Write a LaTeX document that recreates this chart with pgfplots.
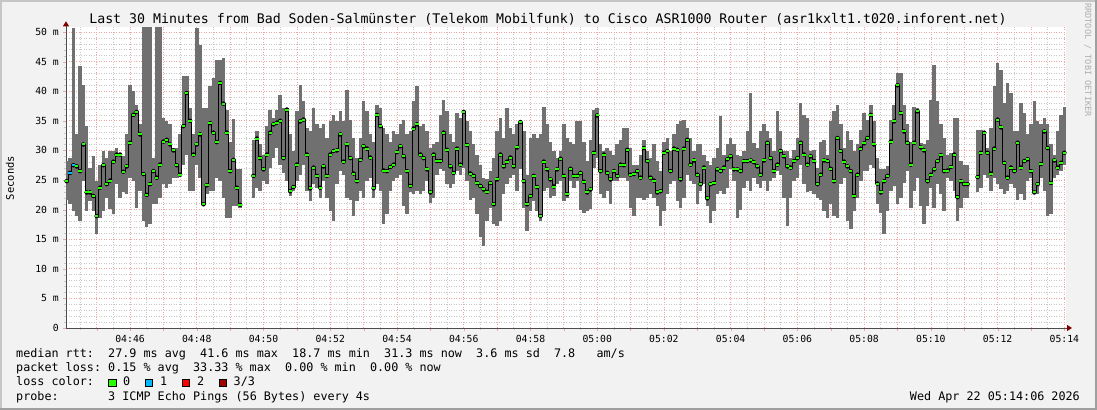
\documentclass[border=0pt]{standalone}
\usepackage{fontspec}
\setmonofont{DejaVu Sans Mono}
\usepackage{pgfplots}
\pgfplotsset{compat=1.18}
\usepackage{pgfplotstable}
\usetikzlibrary{arrows.meta}

\definecolor{bg}{RGB}{242,242,242}
\definecolor{smoke}{RGB}{112,112,112}
\definecolor{loss0}{RGB}{38,255,0}
\definecolor{loss1}{RGB}{0,184,255}
\definecolor{loss2}{RGB}{255,0,0}
\definecolor{loss3}{RGB}{160,0,0}
\definecolor{mgrid}{RGB}{240,165,165}
\definecolor{mingrid}{RGB}{200,200,200}
\definecolor{arrowred}{RGB}{128,0,0}
\definecolor{credit}{RGB}{175,175,175}

% ping rtt per step: min / max of the smoke, median (ms), x = minute of the hour
\pgfplotstableread{
x lo hi med
44.1 21.7 28.2 24.8
44.2 20.9 28.7 26.2
44.3 19.8 50.6 27.5
44.4 18.9 32.7 27.3
44.5 18.1 44.2 26.5
44.6 24.8 41.1 31.0
44.7 19.8 34.1 22.9
44.8 21.5 27.1 22.9
44.9 19.8 29.0 22.3
45.0 15.8 24.8 18.9
45.1 18.6 27.6 23.7
45.2 19.8 29.9 27.5
45.3 22.0 28.7 24.3
45.4 20.1 29.9 24.9
45.5 19.2 29.9 28.1
45.6 24.3 30.4 29.3
45.7 22.0 29.6 29.3
45.8 22.9 29.0 26.4
45.9 22.6 32.7 27.3
46.0 25.4 41.1 31.3
46.1 24.8 40.0 36.0
46.2 20.3 37.7 36.5
46.3 23.1 34.4 32.7
46.4 18.1 50.8 26.0
46.5 17.0 50.8 22.5
46.6 17.5 50.8 24.3
46.7 20.9 28.7 26.5
46.8 20.9 50.8 25.4
46.9 22.0 50.8 27.6
47.0 24.3 35.5 31.5
47.1 23.7 34.9 31.8
47.2 24.3 34.4 31.0
47.3 25.4 30.4 30.0
47.4 25.4 30.4 27.5
47.5 25.6 32.7 25.9
47.6 27.6 42.5 34.1
47.7 29.3 42.5 39.7
47.8 23.1 37.2 35.0
47.9 23.1 32.7 29.3
48.0 27.6 50.6 31.0
48.1 25.4 47.8 32.7
48.2 20.6 37.2 20.9
48.3 22.6 37.2 24.1
48.4 23.1 40.8 34.6
48.5 23.1 42.2 33.0
48.6 25.4 45.3 31.4
48.7 24.8 45.3 41.4
48.8 22.0 45.6 37.9
48.9 18.6 36.9 33.0
49.0 18.6 31.5 26.5
49.1 20.6 35.3 28.4
49.2 20.6 26.8 23.7
49.3 20.2 26.8 20.8
}\segA

\pgfplotstableread{
x lo hi med
49.7 22.0 31.8 25.7
49.8 23.7 33.2 32.0
49.9 23.1 31.0 28.7
50.0 24.8 29.3 26.8
50.1 24.3 34.1 29.3
50.2 27.1 36.9 33.0
50.3 28.8 35.5 34.4
50.4 30.4 36.9 34.7
50.5 27.6 39.3 35.0
50.6 26.2 37.2 28.7
50.7 24.8 37.2 36.9
50.8 22.3 32.7 23.1
50.9 23.1 29.9 23.8
51.0 24.8 36.6 27.6
51.1 25.9 41.1 34.9
51.2 27.6 38.3 35.2
51.3 23.1 33.8 29.3
51.4 21.5 33.2 23.6
51.5 24.3 37.2 27.1
51.6 23.7 34.4 25.7
51.7 22.0 33.8 23.7
51.8 24.8 34.4 27.3
51.9 22.0 32.1 25.7
52.0 19.8 34.9 29.3
52.1 18.1 36.0 29.9
52.2 24.3 34.9 30.0
52.3 26.5 36.6 32.7
52.4 25.9 34.9 28.1
52.5 22.0 40.2 31.0
52.6 21.7 35.2 28.7
52.7 18.9 32.1 26.1
52.8 21.5 28.7 24.8
52.9 23.1 32.1 28.4
53.0 22.0 38.3 30.7
53.1 24.8 36.6 30.3
53.2 25.4 32.7 28.8
53.3 22.0 31.5 23.6
53.4 24.3 37.7 36.0
53.5 23.1 37.2 34.1
53.6 17.5 33.8 26.6
53.7 19.2 32.7 26.5
53.8 23.1 31.5 27.2
53.9 24.8 33.2 27.6
54.0 25.4 32.7 29.7
54.1 25.9 34.4 30.7
54.2 20.6 35.2 29.0
54.3 19.2 32.7 26.5
54.4 22.9 33.2 24.0
54.5 22.6 38.3 33.7
54.6 23.1 40.8 34.4
54.7 22.6 34.1 29.3
54.8 23.1 34.4 28.7
54.9 24.8 33.2 26.8
55.0 21.2 30.4 22.9
55.1 22.0 31.0 29.3
55.2 25.9 31.5 28.2
55.3 26.8 36.0 28.2
55.4 26.5 38.6 33.0
55.5 24.3 36.6 30.1
55.6 23.7 32.7 27.3
55.7 24.3 31.5 26.2
55.8 26.5 36.3 30.3
55.9 25.9 35.5 27.6
56.0 27.1 36.9 36.5
56.1 24.8 34.9 30.9
56.2 21.7 33.2 26.1
56.3 22.0 31.0 25.7
56.4 19.2 29.3 24.5
56.5 15.3 27.6 24.0
56.6 13.9 25.4 23.4
56.7 18.1 25.1 23.0
56.8 20.3 26.5 24.5
56.9 17.5 28.7 20.9
57.0 17.2 33.2 25.1
57.1 18.1 35.5 29.3
57.2 22.6 32.1 27.3
57.3 24.3 37.2 28.1
57.4 25.4 33.8 28.8
57.5 25.9 32.7 27.3
57.6 23.1 34.4 30.5
57.7 26.8 35.2 34.8
57.8 20.3 33.2 24.8
57.9 16.4 25.9 20.9
58.0 19.8 32.1 22.3
58.1 21.5 32.7 25.7
58.2 19.8 32.1 23.8
58.3 18.1 32.7 18.9
58.4 23.1 37.4 28.1
58.5 23.7 34.4 26.8
58.6 22.0 31.5 25.1
58.7 22.3 29.9 23.9
58.8 24.3 28.7 26.8
58.9 24.8 29.9 28.6
59.0 21.5 34.4 25.7
59.1 22.0 32.1 22.6
59.2 24.8 31.5 26.9
59.3 23.7 31.0 25.7
59.4 24.8 34.9 25.7
59.5 20.0 34.9 26.2
59.6 19.5 31.5 24.7
59.7 19.8 28.2 22.9
59.8 20.1 31.8 23.4
59.9 27.1 36.9 29.6
60.0 28.7 37.2 35.9
60.1 22.6 31.0 26.5
60.2 22.0 29.9 29.3
60.3 23.1 30.4 26.2
60.4 20.9 29.9 25.1
60.5 24.8 29.3 26.5
60.6 24.8 31.0 25.7
60.7 25.4 31.8 27.6
60.8 25.4 33.8 27.5
60.9 24.8 33.8 30.1
61.0 20.3 30.4 25.9
61.1 18.9 27.6 26.0
61.2 22.0 27.6 26.5
61.3 22.0 29.3 25.4
61.4 21.7 31.8 30.4
61.5 22.0 29.9 28.2
61.6 22.6 28.7 25.4
61.7 22.0 31.0 24.9
61.8 20.6 28.2 22.9
61.9 17.2 26.5 23.1
62.0 19.8 31.5 29.6
62.1 22.6 32.1 29.9
62.2 24.3 29.9 26.5
62.3 24.8 32.7 30.3
62.4 21.5 34.4 30.1
62.5 20.3 34.9 25.1
62.6 22.0 35.2 30.3
62.7 25.9 33.8 31.8
62.8 24.8 32.1 27.6
62.9 24.3 29.9 28.3
63.0 20.9 31.0 25.9
63.1 23.1 31.0 24.3
63.2 24.3 29.3 27.1
63.3 20.6 28.2 21.9
63.4 17.8 27.6 24.3
63.5 19.8 28.7 24.5
63.6 22.6 30.4 26.8
63.7 23.1 35.8 26.5
63.8 22.6 29.3 27.1
63.9 23.7 31.0 28.5
64.0 26.8 32.1 29.0
64.1 24.8 31.0 26.8
64.2 18.6 29.3 26.8
64.3 19.9 29.0 26.5
64.4 23.7 29.9 28.2
64.5 24.8 33.2 28.2
64.6 23.1 39.7 28.3
64.7 25.4 31.3 28.0
64.8 24.3 30.4 27.3
64.9 23.7 33.2 25.9
65.0 24.8 34.4 28.3
65.1 23.1 33.2 31.3
65.2 24.8 32.1 28.7
65.3 25.4 29.9 26.5
65.4 26.5 36.6 27.6
65.5 25.9 33.2 29.9
65.6 22.0 29.9 29.0
65.7 17.2 29.9 27.3
65.8 22.0 28.7 27.1
65.9 24.8 30.1 28.2
66.0 25.4 32.1 28.7
66.1 27.6 38.0 31.3
66.2 24.3 36.0 29.3
66.3 22.9 35.5 27.6
66.4 23.1 29.9 29.0
66.5 22.6 30.1 28.2
66.6 22.0 27.1 24.3
66.7 21.7 31.5 25.9
66.8 19.8 31.8 28.3
66.9 18.6 29.3 28.2
67.0 20.9 34.9 26.9
67.1 18.9 36.6 24.8
67.2 18.6 37.7 32.1
67.3 24.3 34.4 29.9
67.4 25.4 30.4 28.1
67.5 18.1 33.2 27.3
67.6 16.7 31.8 26.5
67.7 19.8 29.9 22.3
67.8 22.0 31.0 25.9
67.9 24.8 33.5 30.3
68.0 26.5 36.3 31.2
68.1 26.5 35.2 32.1
68.2 27.6 37.7 36.0
68.3 27.1 34.9 31.0
68.4 20.9 28.7 24.4
68.5 19.5 26.8 22.9
68.6 15.8 26.8 24.8
68.7 19.8 27.3 25.7
68.8 23.1 35.2 31.5
68.9 24.0 37.7 34.9
69.0 20.9 43.0 41.0
69.1 22.0 43.0 36.3
69.2 24.5 37.7 33.2
69.3 26.5 34.4 31.3
69.4 20.3 31.5 27.6
69.5 23.1 37.4 31.3
69.6 25.4 37.2 36.6
69.7 20.6 31.3 30.5
69.8 17.5 31.0 30.0
69.9 20.6 31.8 24.8
70.0 23.7 38.6 25.9
70.1 20.3 44.4 26.8
70.2 24.3 38.3 28.2
70.3 22.6 34.4 29.2
70.4 19.8 32.1 26.5
70.5 25.4 29.3 26.6
70.6 24.8 29.6 27.2
70.7 23.1 35.5 29.3
70.8 18.1 35.5 22.1
70.9 20.3 28.2 24.8
71.0 22.0 27.6 24.3
71.1 22.0 27.6 24.3
}\segB

\pgfplotstableread{
x lo hi med
71.4 22.9 33.5 25.5
71.5 23.7 33.5 29.6
71.6 25.9 33.2 33.0
71.7 25.4 30.4 29.6
71.8 23.1 33.8 26.1
71.9 25.4 40.8 30.3
72.0 24.3 44.7 35.2
72.1 23.4 43.6 33.9
72.2 22.6 38.0 27.9
72.3 23.1 41.4 25.4
72.4 24.3 39.7 27.1
72.5 23.7 33.2 26.5
72.6 21.7 33.2 31.3
72.7 22.6 38.0 27.1
72.8 21.7 36.3 28.2
72.9 24.8 32.7 28.5
73.0 25.4 34.4 26.5
73.1 22.6 38.3 22.9
73.2 22.6 34.9 24.3
73.3 25.4 34.4 27.7
73.4 23.1 35.5 33.2
73.5 18.9 34.4 30.4
73.6 19.2 31.0 24.5
73.7 25.4 29.3 28.3
73.8 25.9 33.2 27.1
73.9 26.5 36.0 27.9
74.0 27.6 37.4 29.6
}\segC

\newcommand\drawseg[1]{%
  \addplot[only marks, mark=none, error bars/.cd, y dir=both, y explicit,
    error mark=none, error bar style={smoke, line width=3.45bp}]
    table[x=x, y=med, y error plus expr=\thisrow{hi}-\thisrow{med},
      y error minus expr=\thisrow{med}-\thisrow{lo}] {#1};
  \addplot[black, line width=0.9bp, const plot mark mid] table[x=x, y=med] {#1};
  \addplot[only marks, mark=-, mark size=1.7bp,
    mark options={loss0, line width=2bp}] table[x=x, y=med] {#1};
}

\tikzset{mono/.style={font=\ttfamily\fontsize{#1}{#1}\selectfont}}

\begin{document}
\begin{tikzpicture}
\fill[bg] (0,0) rectangle (1097bp,410bp);
\draw[gray!45, line width=2bp] (1bp,0) -- (1bp,409bp) -- (1097bp,409bp);
\draw[gray!75, line width=2bp] (0,1bp) -- (1096bp,1bp) -- (1096bp,410bp);

\begin{axis}[
  at={(66bp,82bp)}, anchor=south west,
  scale only axis, width=1000bp, height=300.7bp,
  xmin=44.08, xmax=74.05, ymin=0, ymax=50.8,
  axis background/.style={fill=white},
  axis lines=left,
  axis line style={gray!60!black, line width=0.8bp, shorten >=-6bp,
    -{Triangle[length=5bp, width=6bp, color=arrowred]}},
  xtick={45,...,74},
  xticklabels={,04:46,,04:48,,04:50,,04:52,,04:54,,04:56,,04:58,,05:00,,05:02,,05:04,,05:06,,05:08,,05:10,,05:12,,05:14},
  minor xtick={44.5,45.5,...,73.5},
  ytick={0,5,...,50},
  yticklabels={0,5 m,10 m,15 m,20 m,25 m,30 m,35 m,40 m,45 m,50 m},
  minor y tick num=4,
  grid=both,
  major grid style={mgrid, line width=0.7bp, dash pattern=on 1bp off 1.5bp},
  minor grid style={mingrid, line width=0.7bp, dash pattern=on 1bp off 1.5bp},
  tick align=outside,
  major tick length=3bp, minor tick length=2bp,
  every major tick/.append style={mgrid},
  every minor tick/.append style={mingrid},
  tick label style={mono=9.8},
  xticklabel style={inner sep=0pt, yshift=-4bp},
  yticklabel style={inner sep=0pt, xshift=-4bp},
  clip=true,
]
\drawseg{\segA}
\drawseg{\segB}
\drawseg{\segC}
% the first two steps lost one ping of three
\addplot[only marks, mark=-, mark size=1.7bp, mark options={loss1, line width=2bp}]
  coordinates {(44.2,26.2) (44.3,27.5)};
\end{axis}

\node[mono=13.3, anchor=base] at (548bp,386bp)
  {Last 30 Minutes from Bad Soden-Salmünster (Telekom Mobilfunk) to Cisco ASR1000 Router (asr1kxlt1.t020.inforent.net)};
\node[mono=10.5, rotate=90] at (10bp,232bp) {Seconds};
\node[mono=8.6, rotate=-90, text=credit] at (1088bp,350bp) {RRDTOOL / TOBI OETIKER};

\node[mono=11.8, anchor=base west, inner sep=0pt] at (16bp,52.5bp)
  {median rtt:~~27.9 ms avg~~41.6 ms max~~18.7 ms min~~31.3 ms now~~3.6 ms sd~~7.8~~~am/s};
\node[mono=11.8, anchor=base west, inner sep=0pt] at (16bp,38.5bp)
  {packet loss: 0.15 \% avg~~33.33 \% max~~0.00 \% min~~0.00 \% now};
\node[mono=11.8, anchor=base west, inner sep=0pt] at (16bp,24.5bp) {loss color:};
\filldraw[fill=loss0, draw=black, line width=0.7bp] (108.7bp,23.3bp) rectangle (116.2bp,31bp);
\node[mono=11.8, anchor=base west, inner sep=0pt] at (123bp,24.5bp) {0};
\filldraw[fill=loss1, draw=black, line width=0.7bp] (145.2bp,23.3bp) rectangle (152.7bp,31bp);
\node[mono=11.8, anchor=base west, inner sep=0pt] at (160bp,24.5bp) {1};
\filldraw[fill=loss2, draw=black, line width=0.7bp] (182.2bp,23.3bp) rectangle (189.7bp,31bp);
\node[mono=11.8, anchor=base west, inner sep=0pt] at (197bp,24.5bp) {2};
\filldraw[fill=loss3, draw=black, line width=0.7bp] (219bp,23.3bp) rectangle (226.5bp,31bp);
\node[mono=11.8, anchor=base west, inner sep=0pt] at (233.5bp,24.5bp) {3/3};
\node[mono=11.8, anchor=base west, inner sep=0pt] at (16bp,10bp)
  {probe:~~~~~~~3 ICMP Echo Pings (56 Bytes) every 4s};
\node[mono=11.8, anchor=base east, inner sep=0pt] at (1080bp,10bp)
  {Wed Apr 22 05:14:06 2026};

\pgfresetboundingbox
\path[use as bounding box] (0,0) rectangle (1097bp,410bp);
\end{tikzpicture}
\end{document}
